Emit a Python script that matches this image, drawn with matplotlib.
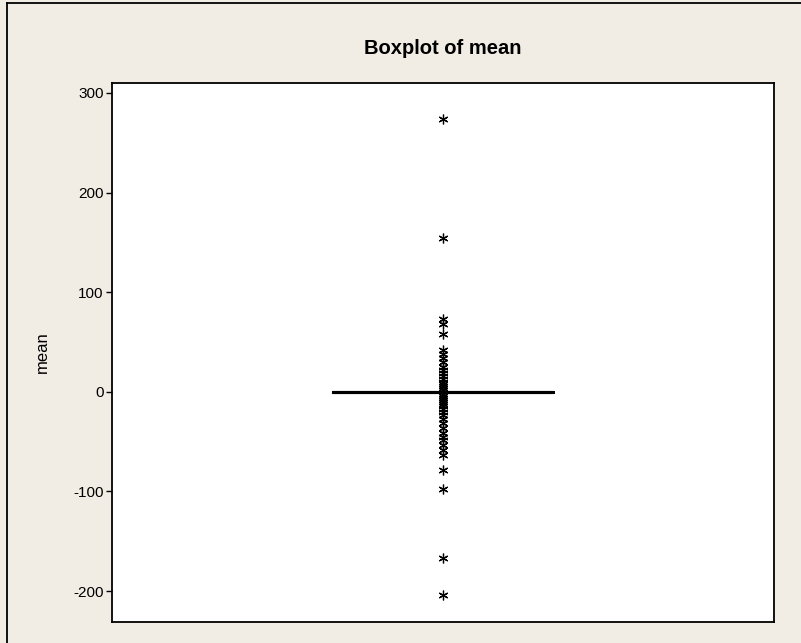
import numpy as np
import matplotlib.pyplot as plt
from matplotlib.lines import Line2D

# values (Minitab boxplot, IQR collapsed to 0)
high_outliers = [274, 154, 73, 68, 58, 42, 38, 34, 30, 25, 22, 19, 16, 13, 10, 8, 6, 4, 2]
low_outliers = [-2, -4, -6, -8, -10, -12, -14, -17, -20, -23, -27, -31, -36, -41,
                -45, -48, -53, -58, -63, -78, -98, -167, -204]
n_zeros = 80
mean_values = np.array([0.0] * n_zeros + high_outliers + low_outliers)

y_ticks = [-200, -100, 0, 100, 200, 300]

bg = '#F1EDE5'
plt.rcParams['font.family'] = ['Liberation Sans', 'DejaVu Sans']
plt.rcParams['axes.unicode_minus'] = False

fig = plt.figure(figsize=(8.01, 6.43), dpi=100, facecolor=bg)
ax = fig.add_axes([112 / 801, 1 - 622 / 643, (774 - 112) / 801, (622 - 83) / 643])
ax.set_facecolor('white')

asterisk = dict(marker=(6, 2, 0), markersize=7, markeredgecolor='black',
                markeredgewidth=0.9, linestyle='none')
ax.boxplot(mean_values, positions=[0], widths=0.333, whis=1.5, showcaps=False,
           boxprops=dict(color='black', linewidth=2.2),
           medianprops=dict(color='black', linewidth=2.2),
           whiskerprops=dict(color='black', linewidth=2.2),
           flierprops=asterisk)

ax.set_xlim(-0.5, 0.5)
ax.set_ylim(-231, 310)
ax.set_xticks([])
ax.set_yticks(y_ticks)
ax.tick_params(axis='y', direction='out', length=4, width=1, labelsize=11, pad=2)
for s in ax.spines.values():
    s.set_linewidth(1.3)

ax.set_ylabel('mean', fontsize=12, labelpad=17)
fig.text(443 / 801, 1 - 49 / 643, 'Boxplot of mean', ha='center', va='center',
         fontsize=14.5, fontweight='bold')

# outer window frame (left and top edges only, as in the screenshot)
fig.add_artist(Line2D([7 / 801, 7 / 801], [0, 1 - 3 / 643], transform=fig.transFigure,
                      color='black', linewidth=1.3))
fig.add_artist(Line2D([7 / 801, 1], [1 - 3 / 643, 1 - 3 / 643], transform=fig.transFigure,
                      color='black', linewidth=1.3))

fig.savefig('out.png', dpi=100, facecolor=bg)
